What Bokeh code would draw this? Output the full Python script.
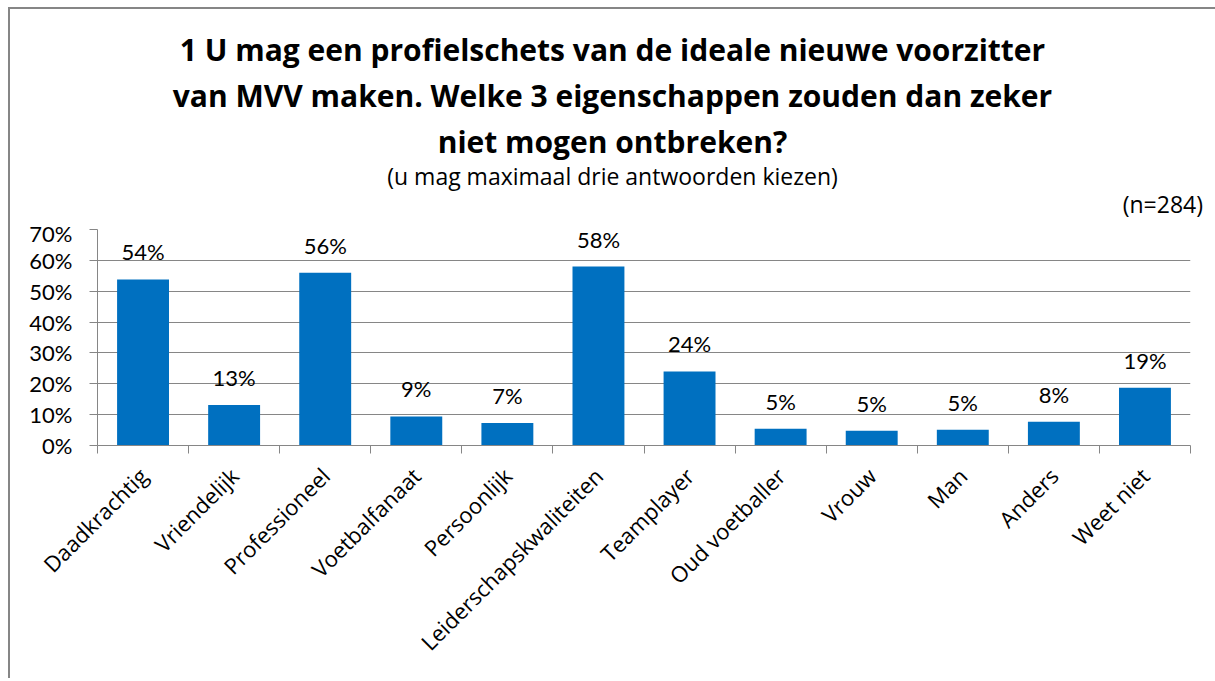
import math
from bokeh.plotting import figure
from bokeh.layouts import column
from bokeh.models import (FixedTicker, NumeralTickFormatter, LabelSet, ColumnDataSource,
                          Range1d, Div)
from bokeh.core.properties import value
from bokeh.embed import file_html
from bokeh.resources import INLINE

# ---- data ----
categories = ["Daadkrachtig", "Vriendelijk", "Professioneel", "Voetbalfanaat", "Persoonlijk",
              "Leiderschapskwaliteiten", "Teamplayer", "Oud voetballer", "Vrouw", "Man",
              "Anders", "Weet niet"]
values = [0.538, 0.131, 0.560, 0.094, 0.073, 0.580, 0.240, 0.054, 0.048, 0.051, 0.077, 0.187]
y_ticks = [0.0, 0.1, 0.2, 0.3, 0.4, 0.5, 0.6, 0.7]
title_lines = ["1 U mag een profielschets van de ideale nieuwe voorzitter",
               "van MVV maken. Welke 3 eigenschappen zouden dan zeker",
               "niet mogen ontbreken?"]
subtitle = "(u mag maximaal drie antwoorden kiezen)"
note = "(n=284)"

# ---- styling ----
FONT = "Lato"
TFONT = "Open Sans"
BAR = "#0070C0"
GRID = "#868686"

xpos = [i + 0.5 for i in range(len(categories))]
labels = ["{:.0f}%".format(v * 100) for v in values]
src = ColumnDataSource(dict(x=xpos, y=values, lab=labels))

# ---- header (titles) ----
html = (
    '<div style="position:relative; top:13px; width:1195px; font-family:\'Open Sans\'; color:black;">'
    '<div style="text-align:center; font-weight:bold; font-size:30px; line-height:46px; white-space:nowrap;">'
    + "<br>".join(title_lines) +
    '</div>'
    '<div style="text-align:center; font-size:23px; line-height:23px; white-space:nowrap;">' + subtitle + '</div>'
    '<div style="text-align:right; padding-right:7px; font-size:23px; line-height:33px;">' + note + '</div>'
    '</div>'
)
header = Div(text=html, width=1195, height=200)

p = figure(width=1195, height=459, output_backend="svg", toolbar_location=None,
           x_range=Range1d(0, len(categories)), y_range=Range1d(0, y_ticks[-1]),
           min_border_left=87, min_border_right=15, min_border_top=10, min_border_bottom=233)
p.outline_line_color = None
p.background_fill_color = "white"
p.border_fill_color = "white"

p.vbar(x="x", top="y", width=0.57, bottom=0, source=src, color=BAR, line_color=None)

p.add_layout(LabelSet(x="x", y="y", text="lab", source=src, y_offset=19,
                      text_align="center", text_baseline="alphabetic",
                      text_font=value(FONT), text_font_size=value("22px"), text_color="black"))

# axes
xa = p.xaxis[0]
xa.ticker = FixedTicker(ticks=xpos, minor_ticks=list(range(len(categories) + 1)))
xa.major_label_overrides = {x: c for x, c in zip(xpos, categories)}
xa.major_label_orientation = math.pi / 4
xa.major_tick_out = 0
xa.major_tick_in = 0
xa.minor_tick_out = 8
xa.minor_tick_in = 0
xa.minor_tick_line_color = GRID
xa.axis_line_color = GRID
xa.major_label_standoff = 18
xa.major_label_text_font = TFONT
xa.major_label_text_font_size = "22px"
xa.major_label_text_color = "black"

ya = p.yaxis[0]
ya.ticker = FixedTicker(ticks=y_ticks)
ya.formatter = NumeralTickFormatter(format="0%")
ya.major_tick_out = 8
ya.major_tick_in = 0
ya.minor_tick_line_color = None
ya.major_tick_line_color = GRID
ya.axis_line_color = GRID
ya.major_label_standoff = 17
ya.major_label_text_font = FONT
ya.major_label_text_font_size = "22px"
ya.major_label_text_color = "black"

p.xgrid.visible = False
p.ygrid.ticker = FixedTicker(ticks=y_ticks)
p.ygrid.grid_line_color = GRID
p.ygrid.grid_line_width = 1

root = column(header, p, spacing=0)
root.styles = {"margin-left": "8px", "margin-top": "7px",
               "border-top": "2px solid #868686", "border-left": "2px solid #868686",
               "border-right": "2px solid #868686", "background-color": "white"}

open("out.html", "w").write(file_html(root, INLINE))
